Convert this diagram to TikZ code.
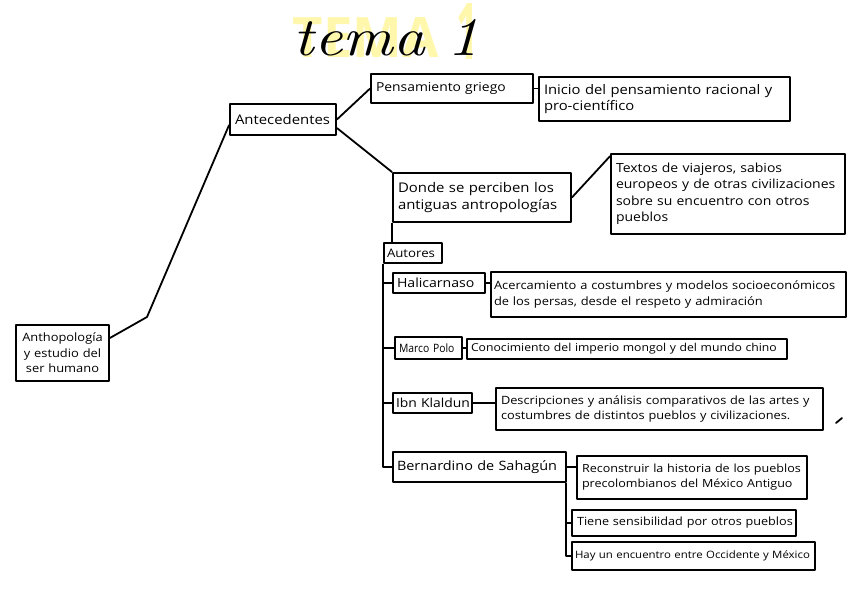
\documentclass[tikz,border=0pt]{standalone}
\usepackage{fontspec}
\usepackage{graphicx}
\newfontfamily\hand[FakeStretch=1.12]{Open Sans}
\newfontfamily\handn[FakeStretch=0.9]{Open Sans}
\newfontfamily\hlfont{Open Sans}
\definecolor{hl}{RGB}{255,240,90}
\begin{document}
\begin{tikzpicture}[x=1pt,y=-1pt,line width=1.8pt,line join=round,
  bx/.style n args={4}{draw,line width=1.8pt,minimum width=#1,minimum height=#2,text width=#1-10pt,inner xsep=5pt,inner ysep=0pt,align=left,font=\hand\fontsize{#3}{#4}\selectfont},
  conn/.style={line width=1.8pt}]
\useasboundingbox (0,0) rectangle (848,599);
\fill[white] (0,0) rectangle (848,599);
% title
\node[anchor=south west,inner sep=0pt,opacity=0.5,text=hl] (tbg) at (292,58) {\resizebox{146pt}{40pt}{\hlfont\bfseries TEMA}};
\node[anchor=south west,inner sep=0pt,opacity=0.5,text=hl] (tbgone) at (456,60) {\resizebox{22pt}{56pt}{\hlfont\bfseries 1}};
\node[anchor=south west,inner sep=0pt] (title) at (293,57) {\resizebox{185pt}{36pt}{\itshape tema 1}};
% nodes
\node[bx={93}{56}{11.5}{15.5},align=center,inner xsep=1pt,text width=91pt] (anth) at (62.5,353) {\mbox{Anthopología}\\\mbox{y estudio del}\\\mbox{ser humano}};
\node[bx={106}{31}{13.3}{16}] (ante) at (283,119.5) {\mbox{Antecedentes}};
\node[bx={162}{29}{12.4}{15}] (pens) at (452,88.5) {\mbox{Pensamiento griego}};
\node[bx={251}{44}{13.2}{15.5}] (inic) at (664.5,99) {\mbox{Inicio del pensamiento racional y}\\\mbox{pro-científico}};
\node[bx={178}{49}{13.3}{16.5}] (dond) at (482,197.5) {\mbox{Donde se perciben los}\\\mbox{antiguas antropologías}};
\node[bx={234}{80}{12.5}{16.5}] (text) at (728,194) {\mbox{Textos de viajeros, sabios}\\\mbox{europeos y de otras civilizaciones}\\\mbox{sobre su encuentro con otros}\\\mbox{pueblos}};
\node[bx={58}{20}{11.8}{13},inner xsep=3pt,text width=52pt] (auto) at (413,253) {\mbox{Autores}};
\node[bx={92}{20}{12.6}{14},inner xsep=4pt,text width=84pt] (hali) at (439,283) {\mbox{Halicarnaso}};
\node[bx={355}{45}{11.5}{15.5},inner xsep=3pt,text width=349pt] (acer) at (668.5,294.5) {\mbox{Acercamiento a costumbres y modelos socioeconómicos}\\\mbox{de los persas, desde el respeto y admiración}};
\node[bx={67}{22}{11.5}{13},inner xsep=4pt,text width=59pt,font=\handn\fontsize{11.5}{13}\selectfont] (marc) at (428.5,348) {\mbox{Marco Polo}};
\node[bx={320}{20}{10.9}{14},inner xsep=4pt,text width=312pt] (cono) at (627,349) {\mbox{Conocimiento del imperio mongol y del mundo chino}};
\node[bx={79}{20}{12.4}{13},inner xsep=3pt,text width=73pt] (ibn) at (432.5,403) {\mbox{Ibn Klaldun}};
\node[bx={327}{42}{11.4}{15}] (desc) at (659.5,409) {\mbox{Descripciones y análisis comparativos de las artes y}\\\mbox{costumbres de distintos pueblos y civilizaciones.}};
\node[bx={173}{30}{12.9}{16},inner xsep=4pt,text width=165pt] (bern) at (479.5,467) {\mbox{Bernardino de Sahagún}};
\node[bx={230}{43}{11.2}{15}] (reco) at (692,477.5) {\mbox{Reconstruir la historia de los pueblos}\\\mbox{precolombianos del México Antiguo}};
\node[bx={224}{26}{11.3}{13}] (tien) at (684,523) {\mbox{Tiene sensibilidad por otros pueblos}};
\node[bx={243}{28}{10.2}{13},inner xsep=3pt,text width=237pt] (hay) at (693.5,556) {\mbox{Hay un encuentro entre Occidente y México}};
% connectors
\coordinate (k1) at (147,317);
\draw[conn] ([yshift=15pt]anth.east) -- (k1) -- ([yshift=-5.5pt]ante.west);
\draw[conn] (ante.east) -- (pens.west);
\draw[conn] (pens.east) -- (pens.east -| inic.west);
\draw[conn] ([yshift=-8.5pt]ante.east) -- (dond.north west);
\draw[conn] (dond.east) -- ([yshift=-3pt]text.north west);
\draw[conn] (dond.south west) -- (dond.south west |- auto.north);
\draw[conn] (auto.south west) |- (bern.west);
\draw[conn] (auto.south west |- hali.west) -- (hali.west);
\draw[conn] (auto.south west |- marc.west) -- (marc.west);
\draw[conn] (auto.south west |- ibn.west) -- (ibn.west);
\draw[conn] (hali.east) -- (hali.east -| acer.west);
\draw[conn] (marc.east) -- (marc.east -| cono.west);
\draw[conn] (ibn.east) -- (ibn.east -| desc.west);
\draw[conn] (bern.east) -- (bern.east -| reco.west);
\draw[conn] ([xshift=-1pt]bern.south east) |- (hay.west);
\draw[conn] ([xshift=-1pt]bern.south east |- tien.west) -- (tien.west);
% stray mark
\coordinate (sa) at (836,423);
\coordinate (sb) at (842,418);
\draw[line width=1.8pt,line cap=round] (sa) -- (sb);
\end{tikzpicture}
\end{document}
